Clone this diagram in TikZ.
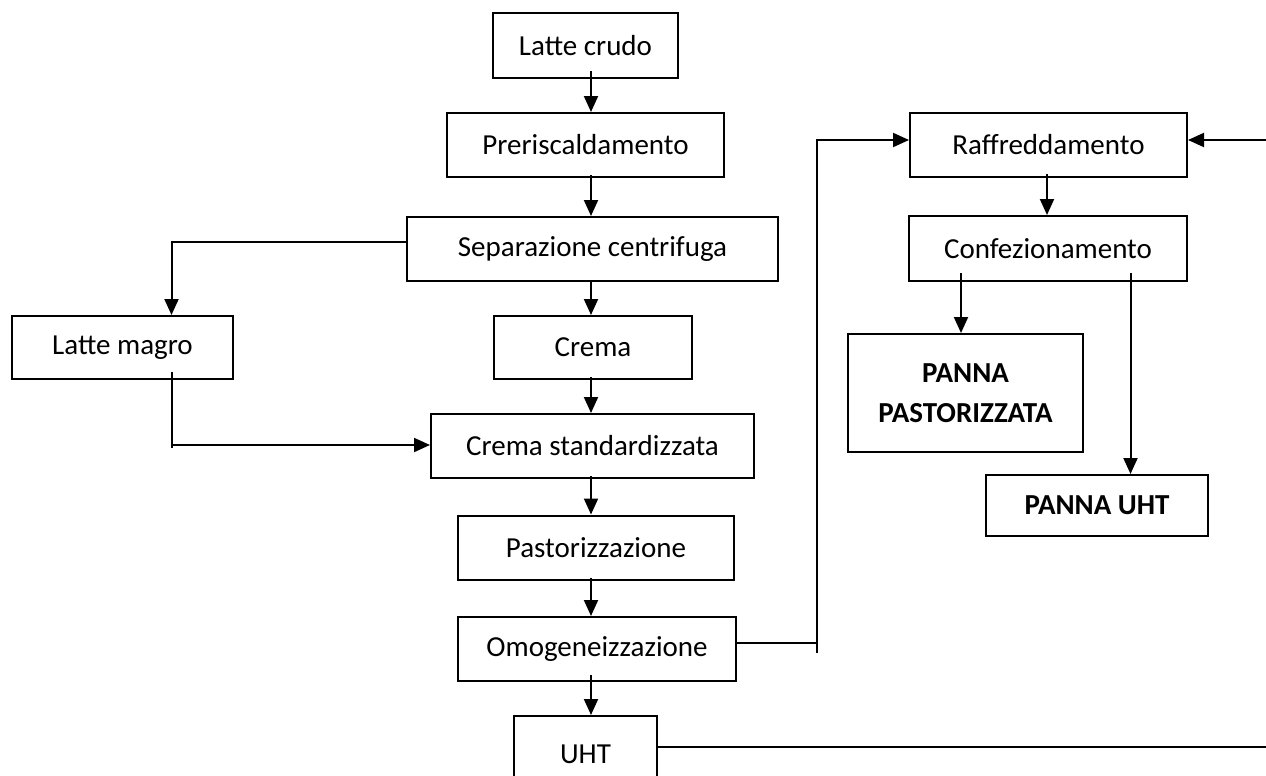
\documentclass[tikz,border=0pt]{standalone}
\usepackage{fontspec}
\setmainfont{Carlito}
\usetikzlibrary{arrows.meta}
\begin{document}
\begin{tikzpicture}[x=1pt,y=-1pt,
  box/.style={draw, line width=2pt, inner sep=0pt, font=\fontsize{29}{35}\selectfont},
  bbox/.style={box, font=\fontsize{29}{40}\selectfont\bfseries},
  ln/.style={line width=2pt},
  arr/.style={line width=2pt, -{Triangle[length=16pt,width=14pt]}}]
\useasboundingbox (0,0) rectangle (1266,776);
\clip (0,0) rectangle (1266,776);
% boxes
\node[box, minimum width=185pt, minimum height=65pt] (crudo) at (585.5,45.5) {Latte crudo};
\node[box, minimum width=277pt, minimum height=64pt] (prer) at (585.5,145) {Preriscaldamento};
\node[box, minimum width=371pt, minimum height=64pt] (sep) at (592.5,249) {Separazione centrifuga};
\node[box, minimum width=221pt, minimum height=63pt] (magro) at (122.5,347.5) {Latte magro};
\node[box, minimum width=198pt, minimum height=63pt] (crema) at (593,347.5) {Crema};
\node[box, minimum width=323pt, minimum height=64pt] (std) at (592.5,446) {Crema standardizzata};
\node[box, minimum width=276pt, minimum height=64pt] (past) at (596,547.5) {Pastorizzazione};
\node[box, minimum width=278pt, minimum height=64pt] (omog) at (597,649) {Omogeneizzazione};
\node[box, minimum width=143pt, minimum height=90pt] (uht) at (585.5,761) {\raisebox{14pt}{UHT}};
\node[box, minimum width=277pt, minimum height=64pt] (raff) at (1048.5,145) {Raffreddamento};
\node[box, minimum width=278pt, minimum height=65pt] (conf) at (1048,248.5) {Confezionamento};
\node[bbox, minimum width=235pt, minimum height=118pt] (pp) at (965.5,393)
  {\raisebox{6pt}{\parbox{230pt}{\centering PANNA\\PASTORIZZATA}}};
\node[bbox, minimum width=222pt, minimum height=61pt] (puht) at (1097,505.5) {PANNA UHT};
% helper coordinates
\coordinate (cx) at (591,0);
\coordinate (mx) at (171.5,0);
\coordinate (sy) at (0,242);
\coordinate (hy) at (0,445);
\coordinate (m1) at (171.5,372);
\coordinate (m2) at (171.5,448);
\coordinate (ox) at (817,0);
\coordinate (oy) at (0,643);
\coordinate (ry) at (0,140);
\coordinate (rx) at (1274,0);
\coordinate (uy) at (0,747);
\coordinate (kx) at (1047,0);
\coordinate (px) at (961,0);
\coordinate (qx) at (1130.5,0);
% main chain
\draw[arr] ([yshift=8pt]crudo.south -| cx) -- (prer.north -| cx);
\draw[arr] ([yshift=3pt]prer.south -| cx) -- (sep.north -| cx);
\draw[arr] (sep.south -| cx) -- (crema.north -| cx);
\draw[arr] ([yshift=3pt]crema.south -| cx) -- (std.north -| cx);
\draw[arr] ([yshift=3pt]std.south -| cx) -- (past.north -| cx);
\draw[arr] ([yshift=3pt]past.south -| cx) -- (omog.north -| cx);
\draw[arr] ([yshift=7pt]omog.south -| cx) -- (uht.north -| cx);
% skim milk branch
\draw[arr] (sep.west |- sy) -| (magro.north -| mx);
\draw[ln] (m1) -- (m2);
\draw[arr] (mx |- hy) -- (std.west |- hy);
% to cooling
\draw[arr] (omog.east |- oy) -- (ox |- oy) |- (raff.west |- ry);
\draw[ln] (ox |- oy) -- ++(0,10);
\draw[arr] (uht.east |- uy) -| (rx |- ry) -- (raff.east |- ry);
\draw[arr] ([yshift=4pt]raff.south -| kx) -- (conf.north -| kx);
\draw[arr] ([yshift=9pt]conf.south -| px) -- (pp.north -| px);
\draw[arr] ([yshift=9pt]conf.south -| qx) -- (puht.north -| qx);
\end{tikzpicture}
\end{document}
